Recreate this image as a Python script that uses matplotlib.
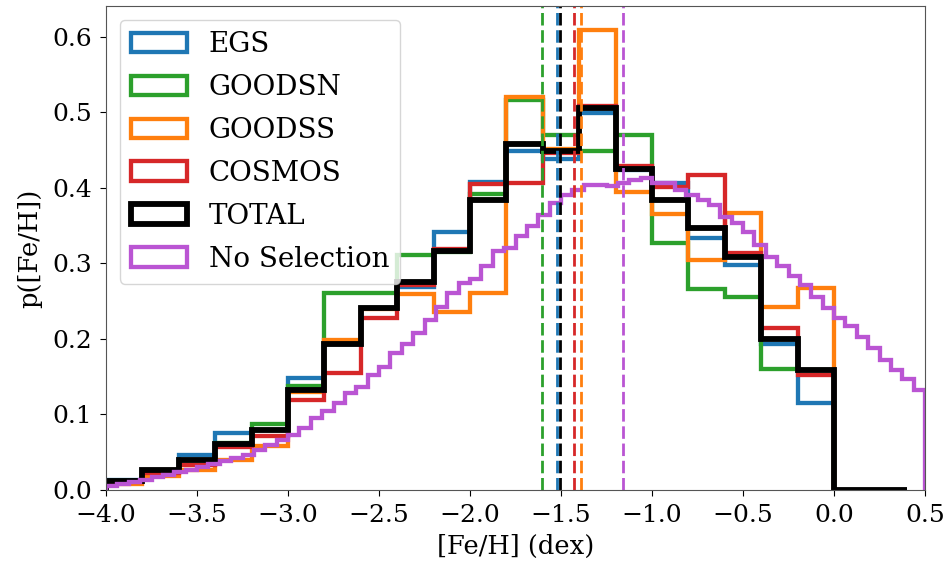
import numpy as np
import matplotlib
matplotlib.use("Agg")
import matplotlib.pyplot as plt

plt.rcParams['font.family'] = ['DejaVu Serif']

# ---- data ----
edges = np.round(np.arange(-4.0, 0.0001, 0.2), 3)            # 20 bins, width 0.2
edges_total = np.round(np.arange(-4.0, 0.4001, 0.2), 3)      # TOTAL runs to 0.4
edges_nosel = np.linspace(-4.0, 0.5, 73)                    # 72 bins

egs = [0.013, 0.025, 0.046, 0.075, 0.080, 0.148, 0.193, 0.241, 0.269, 0.342,
       0.408, 0.449, 0.438, 0.499, 0.424, 0.407, 0.334, 0.298, 0.194, 0.115]
goodsn = [0.012, 0.025, 0.040, 0.062, 0.087, 0.138, 0.261, 0.261, 0.311, 0.315,
          0.392, 0.516, 0.470, 0.449, 0.470, 0.327, 0.266, 0.255, 0.160, 0.159]
goodss = [0.008, 0.019, 0.026, 0.040, 0.058, 0.130, 0.198, 0.240, 0.259, 0.236,
          0.261, 0.520, 0.452, 0.609, 0.395, 0.366, 0.305, 0.367, 0.242, 0.267]
cosmos = [0.010, 0.022, 0.033, 0.057, 0.072, 0.119, 0.155, 0.228, 0.272, 0.319,
          0.405, 0.406, 0.446, 0.509, 0.429, 0.401, 0.417, 0.314, 0.215, 0.152]
total = [0.012, 0.026, 0.040, 0.061, 0.079, 0.132, 0.193, 0.241, 0.276, 0.316,
         0.384, 0.458, 0.449, 0.506, 0.425, 0.384, 0.347, 0.308, 0.200, 0.159,
         0.0, 0.0]
no_selection = [0.005, 0.008, 0.010, 0.013, 0.017, 0.020, 0.024, 0.027, 0.031, 0.035,
                0.039, 0.043, 0.047, 0.053, 0.060, 0.066, 0.073, 0.082, 0.095, 0.104,
                0.115, 0.128, 0.137, 0.152, 0.163, 0.181, 0.194, 0.208, 0.225, 0.243,
                0.261, 0.274, 0.280, 0.296, 0.316, 0.320, 0.336, 0.349, 0.364, 0.380,
                0.391, 0.397, 0.404, 0.404, 0.402, 0.406, 0.411, 0.413, 0.406, 0.406,
                0.397, 0.391, 0.384, 0.377, 0.362, 0.353, 0.342, 0.324, 0.309, 0.296,
                0.283, 0.271, 0.255, 0.241, 0.228, 0.217, 0.202, 0.188, 0.172, 0.159,
                0.147, 0.133]

medians = {"EGS": -1.524, "GOODSN": -1.606, "GOODSS": -1.390, "COSMOS": -1.427,
           "TOTAL": -1.505, "No Selection": -1.161}

series = [
    ("EGS", egs, edges, "#1f77b4", 3.1),
    ("GOODSN", goodsn, edges, "#2ca02c", 3.1),
    ("GOODSS", goodss, edges, "#ff7f0e", 3.1),
    ("COSMOS", cosmos, edges, "#d62728", 3.1),
    ("TOTAL", total, edges_total, "black", 4.2),
    ("No Selection", no_selection, edges_nosel, "#ba55d3", 3.1),
]

fig = plt.figure(figsize=(9.51, 5.68), dpi=100)
ax = fig.add_axes([106/951, 1-490/568, (925-106)/951, (490-6)/568])

for name, vals, e, col, lw in series:
    centers = 0.5 * (e[:-1] + e[1:])
    ax.hist(centers, bins=e, weights=vals, histtype='step', color=col,
            linewidth=lw, label=name)

for name, vals, e, col, lw in series:
    ax.axvline(medians[name], color=col, linewidth=2.0, linestyle=(0, (4.5, 1.7)))

ax.set_xlim(-4.0, 0.5)
ax.set_ylim(0.0, 0.641)
ax.set_xticks(np.arange(-4.0, 0.51, 0.5))
ax.set_yticks(np.arange(0.0, 0.61, 0.1))
ax.tick_params(labelsize=18, length=4.5, pad=5.5)
ax.set_xlabel("[Fe/H] (dex)", fontsize=18.5, labelpad=5)
ax.set_ylabel("p([Fe/H])", fontsize=18.5, labelpad=7)
for s in ax.spines.values():
    s.set_color("#555555")

ax.legend(loc='upper left', fontsize=20, handlelength=2.0, borderaxespad=0.5,
          labelspacing=0.575)

fig.savefig("out.png", dpi=100)
